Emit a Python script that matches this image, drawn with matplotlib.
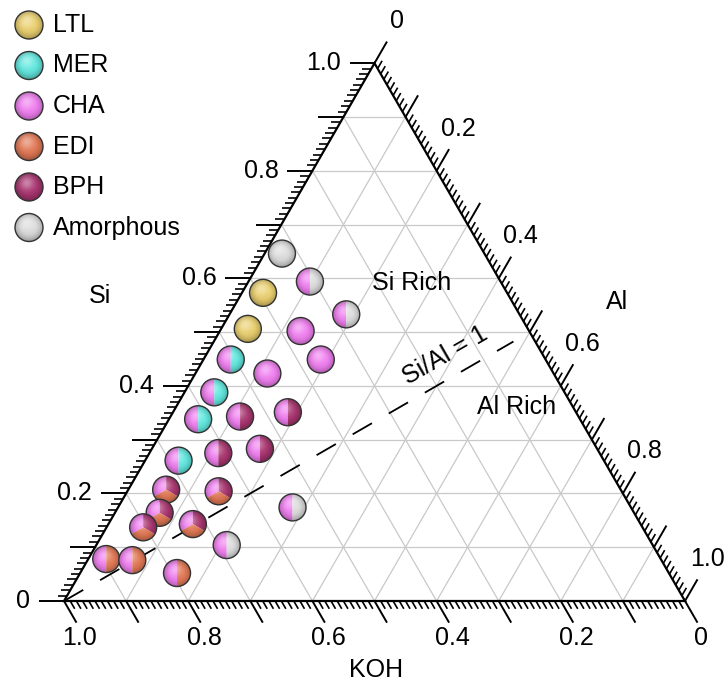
import numpy as np
import matplotlib
matplotlib.use("Agg")
import matplotlib.pyplot as plt
from matplotlib.patches import Circle, Wedge, Polygon
from matplotlib.collections import LineCollection

plt.rcParams['font.family'] = ['Liberation Sans', 'DejaVu Sans']
plt.rcParams['lines.scale_dashes'] = False

# ---- data -----------------------------------------------------------------
phases = ["LTL", "MER", "CHA", "EDI", "BPH", "Amorphous"]
phase_colors = ["#eacf6e", "#62e8df", "#f07ef0", "#e27855", "#a8346f", "#dcdcdc"]

# molar fractions of each synthesis gel (Si + Al + KOH = 1)
si_frac = [0.646, 0.594, 0.573, 0.533, 0.506, 0.502, 0.449, 0.449, 0.423,
           0.388, 0.343, 0.351, 0.338, 0.275, 0.283, 0.261, 0.207, 0.204,
           0.174, 0.164, 0.137, 0.143, 0.104, 0.078, 0.076, 0.052]
al_frac = [0.028, 0.099, 0.034, 0.188, 0.043, 0.130, 0.189, 0.044, 0.116,
           0.048, 0.112, 0.185, 0.047, 0.111, 0.174, 0.054, 0.061, 0.147,
           0.281, 0.072, 0.059, 0.136, 0.210, 0.029, 0.072, 0.156]
koh_frac = [0.326, 0.307, 0.393, 0.279, 0.451, 0.368, 0.362, 0.507, 0.461,
            0.564, 0.545, 0.464, 0.615, 0.614, 0.543, 0.685, 0.732, 0.649,
            0.545, 0.764, 0.804, 0.721, 0.686, 0.893, 0.852, 0.792]
products = [
    ["Amorphous"], ["CHA", "Amorphous"], ["LTL"], ["CHA", "Amorphous"],
    ["LTL"], ["CHA"], ["CHA"], ["CHA", "MER"], ["CHA"],
    ["CHA", "MER"], ["CHA", "BPH"], ["CHA", "BPH"], ["CHA", "MER"],
    ["CHA", "BPH"], ["CHA", "BPH"], ["CHA", "MER"], ["CHA", "BPH", "EDI"],
    ["CHA", "BPH", "EDI"], ["CHA", "Amorphous"], ["CHA", "BPH", "EDI"],
    ["CHA", "BPH", "EDI"], ["CHA", "BPH", "EDI"], ["CHA", "Amorphous"],
    ["CHA", "EDI"], ["CHA", "EDI"], ["CHA", "EDI"],
]

tick_values = [0.0, 0.2, 0.4, 0.6, 0.8, 1.0]
tick_labels = ["0", "0.2", "0.4", "0.6", "0.8", "1.0"]
ratio_line_end = 0.4825   # Si = Al along the Si/Al = 1 line

# ---- geometry ---------------------------------------------------------------
H = np.sqrt(3) / 2
PX = 1 / 621.0           # one pixel in data units (side of triangle = 621 px)
color_of = dict(zip(phases, phase_colors))


def tern(si, al):
    """Ternary (Si, Al, KOH) -> cartesian; KOH corner at origin."""
    si = np.asarray(si, float)
    al = np.asarray(al, float)
    return al + si / 2, si * H


fig = plt.figure(figsize=(7.28, 6.83), dpi=100)
ax = fig.add_axes([0, 0, 1, 1])
ax.axis("off")

# grid
grid = []
for v in np.arange(0.1, 0.95, 0.1):
    grid.append([(v / 2, v * H), (1 - v / 2, v * H)])                 # Si const
    grid.append([(1 - v, 0), ((1 - v) / 2, (1 - v) * H)])             # KOH const
    grid.append([(v, 0), (v + (1 - v) / 2, (1 - v) * H)])             # Al const
ax.add_collection(LineCollection(grid, colors="#c9c9c9", linewidths=0.9, zorder=1))

# frame
ax.add_patch(Polygon([(0, 0), (1, 0), (0.5, H)], closed=True, fill=False,
                     edgecolor="black", linewidth=1.6, zorder=3, joinstyle="miter"))

# ticks
major_len, minor_len = 25 * PX, 9 * PX
maj, mnr = [], []
d_si = np.array([-1.0, 0.0])
d_koh = np.array([0.5, -H])
d_al = np.array([0.5, H])
for i in range(101):
    v = i / 100
    L = major_len if i % 10 == 0 else minor_len
    target = maj if i % 10 == 0 else mnr
    p = np.array([v / 2, v * H])
    target.append([tuple(p), tuple(p + L * d_si)])
    p = np.array([1 - v, 0.0])
    target.append([tuple(p), tuple(p + L * d_koh)])
    p = np.array([v + (1 - v) / 2, (1 - v) * H])
    target.append([tuple(p), tuple(p + L * d_al)])
ax.add_collection(LineCollection(maj, colors="black", linewidths=1.4, zorder=3))
ax.add_collection(LineCollection(mnr, colors="black", linewidths=1.2, zorder=3))

fs = 18
for v, lab in zip(tick_values, tick_labels):
    # Si (left edge)
    x, y = v / 2, v * H
    ax.text(x - 34 * PX, y, lab, ha="right", va="center", fontsize=fs)
    # KOH (bottom edge), value decreases to the right
    ax.text(1 - v + 16 * PX, -37 * PX, lab, ha="center", va="center", fontsize=fs)
    # Al (right edge)
    x, y = v + (1 - v) / 2, (1 - v) * H
    ax.text(x + 22 * PX, y + 42 * PX, lab, ha="center", va="center", fontsize=fs)

ax.text(36 * PX, 305 * PX, "Si", ha="center", va="center", fontsize=fs)
ax.text(553 * PX, 299 * PX, "Al", ha="center", va="center", fontsize=fs)
ax.text(312 * PX, -69 * PX, "KOH", ha="center", va="center", fontsize=fs)

# Si/Al = 1 reference line
lx, ly = tern([0, ratio_line_end], [0, ratio_line_end])
ax.plot(lx, ly, color="black", linewidth=1.3, dashes=(16, 14), zorder=2)
ax.text(381 * PX, 246 * PX, "Si/Al = 1", rotation=30, ha="center", va="center",
        fontsize=fs, rotation_mode="anchor")
ax.text(348 * PX, 318 * PX, "Si Rich", ha="center", va="center", fontsize=fs)
ax.text(453 * PX, 194 * PX, "Al Rich", ha="center", va="center", fontsize=fs)

# sphere shading textures
g = np.linspace(-1, 1, 81)
gx, gy = np.meshgrid(g, g)
rr = np.sqrt(gx ** 2 + gy ** 2)
hl = 0.40 * np.exp(-((gx + 0.15) ** 2 + (gy - 0.3) ** 2) / 0.25)
light = np.zeros(gx.shape + (4,))
light[..., :3] = 1.0
light[..., 3] = hl
shade = np.zeros(gx.shape + (4,))
shade[..., 3] = 0.22 * np.clip((rr - 0.45) / 0.55, 0, 1) ** 1.5 + \
    0.07 * np.clip(-gy, 0, 1)


def sphere(cx, cy, r, names, z):
    n = len(names)
    if n == 1:
        spans = [(0, 360)]
    elif n == 2:
        spans = [(90, 270), (270, 450)]
    else:
        spans = [(90, 210), (330, 450), (210, 330)]
    for nm, (a0, a1) in zip(names, spans):
        ax.add_patch(Wedge((cx, cy), r, a0, a1, facecolor=color_of[nm],
                           edgecolor="none", zorder=z))
    clip = Circle((cx, cy), r, transform=ax.transData)
    for tex in (shade, light):
        im = ax.imshow(tex, extent=[cx - r, cx + r, cy - r, cy + r], origin="lower",
                       interpolation="bilinear", aspect="auto", zorder=z + 0.01)
        im.set_clip_path(clip)
    ax.add_patch(Circle((cx, cy), r, facecolor="none", edgecolor="#333333",
                        linewidth=1.0, zorder=z + 0.02))


px_x, px_y = tern(si_frac, al_frac)
order = np.argsort(-np.asarray(si_frac))
for k, i in enumerate(order):
    sphere(px_x[i], px_y[i], 13.5 * PX, products[i], 5 + k * 0.1)

# legend
for j, (nm, col) in enumerate(zip(phases, phase_colors)):
    cy = (601 - 25 - 40.5 * j) * PX
    cx = (29 - 64) * PX
    sphere(cx, cy, 14 * PX, [nm], 20)
    ax.text((53 - 64) * PX, cy, nm, ha="left", va="center", fontsize=fs)

ax.set_xlim(-64 * PX, 664 * PX)
ax.set_ylim(-82 * PX, 601 * PX)
fig.savefig("out.png", dpi=100)
